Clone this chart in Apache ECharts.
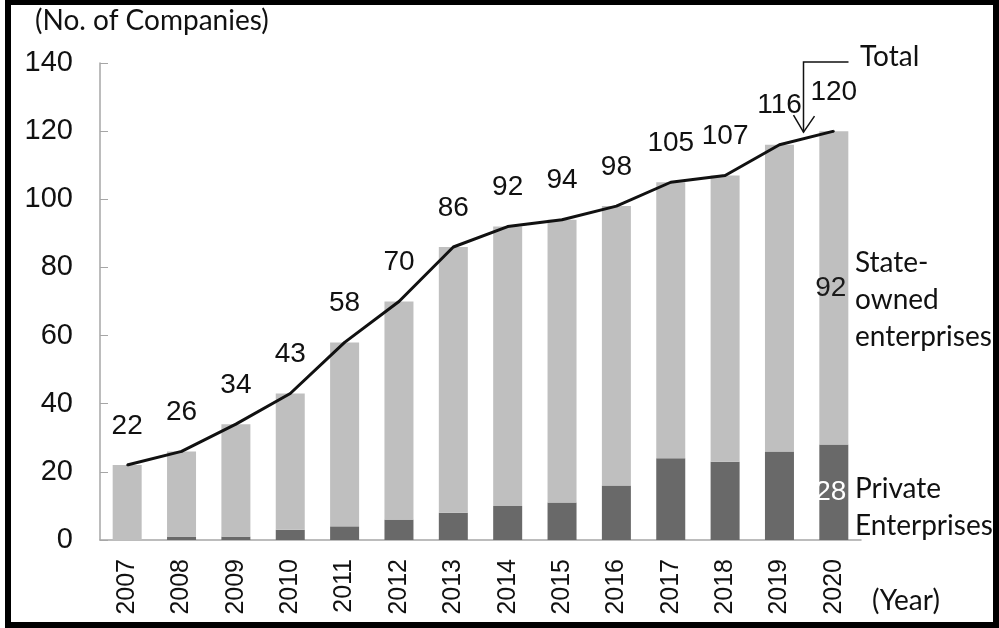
<!DOCTYPE html>
<html>
<head>
<meta charset="utf-8">
<script src="https://cdn.jsdelivr.net/npm/echarts@6/dist/echarts.min.js"></script>
<style>
html,body{margin:0;padding:0;background:#fff;}
#c{width:999px;height:628px;}
</style>
</head>
<body>
<div id="c"></div>
<script>
var years = ['2007','2008','2009','2010','2011','2012','2013','2014','2015','2016','2017','2018','2019','2020'];
var total = [22,26,34,43,58,70,86,92,94,98,105,107,116,120];
var privateEnt = [0,1,1,3,4,6,8,10,11,16,24,23,26,28];
var stateOwned = total.map(function(t,i){ return t - privateEnt[i]; });
var yTicks = [0,20,40,60,80,100,120,140];

var chart = echarts.init(document.getElementById('c'));
var numFont = '"Liberation Sans", Arial, sans-serif';
var txtFont = 'Lato, "Open Sans", sans-serif';
var last = years.length - 1;

var stateData = stateOwned.map(function(v,i){
  if (i === last) return {value: v, label: {show: true, position: 'inside', color: '#1a1a1a', fontSize: 28, fontFamily: numFont, offset:[-3,0]}};
  return v;
});
var privData = privateEnt.map(function(v,i){
  if (i === last) return {value: v, label: {show: true, position: 'inside', color: '#ffffff', fontSize: 28, fontFamily: numFont, offset:[-3,0]}};
  return v;
});

chart.setOption({
  animation: false,
  backgroundColor: '#fff',
  grid: {left: 100, right: 138, top: 63, bottom: 88},
  xAxis: {
    type: 'category',
    data: years,
    axisLine: {lineStyle: {color: '#a6a6a6', width: 1.5}},
    axisTick: {inside: true, length: 8, lineStyle: {color: '#a6a6a6'}},
    axisLabel: {rotate: 90, color: '#111', fontSize: 25, fontFamily: numFont, margin: 19}
  },
  yAxis: {
    type: 'value',
    min: yTicks[0], max: yTicks[yTicks.length-1], interval: 20,
    splitLine: {show: false},
    axisLine: {show: true, lineStyle: {color: '#a6a6a6', width: 1.5}},
    axisTick: {show: true, inside: true, length: 8, lineStyle: {color: '#a6a6a6'}},
    axisLabel: {color: '#111', fontSize: 29, fontFamily: numFont, margin: 27}
  },
  series: [
    {name: 'Private Enterprises', type: 'bar', stack: 's', barWidth: 29, data: privData,
     itemStyle: {color: '#696969'}, label: {show: false}},
    {name: 'State-owned enterprises', type: 'bar', stack: 's', barWidth: 29, data: stateData,
     itemStyle: {color: '#bfbfbf'}, label: {show: false}},
    {name: 'Total', type: 'line', data: total, symbol: 'circle', symbolSize: 2, showSymbol: true, z: 5,
     itemStyle: {color: '#111'},
     lineStyle: {color: '#111', width: 3},
     label: {show: true, position: 'top', distance: 24, color: '#111', fontSize: 28, fontFamily: numFont}}
  ]
});

var p12 = chart.convertToPixel({xAxisIndex:0, yAxisIndex:0}, [years[12], 119.7]);
var p13 = chart.convertToPixel({xAxisIndex:0, yAxisIndex:0}, [years[13], 119.7]);
var ax = Math.round(p12[0] + 0.43 * (p13[0] - p12[0])) + 0.5, ay = p12[1];
chart.setOption({
  graphic: [
    {type: 'rect', shape: {x: 8, y: 2, width: 988, height: 623}, style: {fill: 'none', stroke: '#000', lineWidth: 6}, z: 100},
    {type: 'text', left: 35, top: 7, style: {text: '(No. of Companies)', font: '28px ' + txtFont, fill: '#111'}},
    {type: 'text', left: 872, top: 587, style: {text: '(Year)', font: '28px ' + txtFont, fill: '#111'}},
    {type: 'text', left: 860, top: 43, style: {text: 'Total', font: '28px ' + txtFont, fill: '#111'}},
    {type: 'text', left: 855, top: 244, style: {text: 'State-\nowned\nenterprises', font: '28px ' + txtFont, lineHeight: 37, fill: '#111'}},
    {type: 'text', left: 855, top: 470, style: {text: 'Private\nEnterprises', font: '28px ' + txtFont, lineHeight: 37, fill: '#111'}},
    {type: 'polyline', shape: {points: [[ax + 45, 62], [ax, 62], [ax, ay]]}, style: {stroke: '#111', lineWidth: 1.5, fill: 'none'}, z: 10},
    {type: 'polyline', shape: {points: [[ax - 10, ay - 17], [ax, ay], [ax + 11, ay - 16]]}, style: {stroke: '#111', lineWidth: 1.5, fill: 'none'}, z: 10}
  ]
});
</script>
</body>
</html>
